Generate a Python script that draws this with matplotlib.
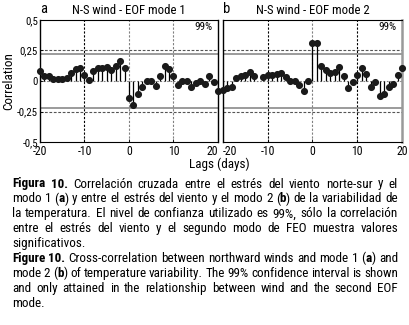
import numpy as np
import matplotlib
matplotlib.use("Agg")
import matplotlib.pyplot as plt
from matplotlib import font_manager

lags = np.arange(-20, 21)

# N-S wind vs EOF mode 1 (panel a)
corr_mode1 = [0.082, 0.044, 0.042, 0.02, 0.017, 0.017, 0.024, 0.068, 0.1, 0.106,
              0.05, 0.012, 0.08, 0.11, 0.11, 0.116, 0.09, 0.127, 0.16, 0.107,
              -0.14, -0.194, -0.105, -0.048, 0.0, 0.0, -0.04, 0.044, 0.124, 0.095,
              0.041, -0.034, -0.004, -0.004, -0.05, -0.019, -0.003, -0.023, 0.038, -0.012,
              -0.081]

# N-S wind vs EOF mode 2 (panel b), lag -12 is missing in the figure
corr_mode2 = [-0.07, -0.06, -0.046, 0.028, 0.041, 0.05, 0.075, 0.037, np.nan, 0.035,
              0.05, 0.052, 0.055, 0.062, 0.034, -0.004, 0.0, -0.033, -0.085, -0.004,
              0.315, 0.31, 0.126, 0.09, 0.063, 0.07, 0.118, 0.037, -0.06, -0.011,
              0.048, 0.104, 0.055, -0.047, -0.005, -0.12, -0.11, -0.047, -0.023, 0.052,
              0.104]

conf99 = 0.225
yticks = [0.5, 0.25, 0, -0.25, -0.5]
ytick_labels = ["0,5", "0,25", "0", "-0,25", "-0,5"]
xticks = [-20, -10, 0, 10, 20]
titles = ["N-S wind - EOF mode 1", "N-S wind - EOF mode 2"]
letters = ["a", "b"]

caption = [
    ("**Figura 10.** Correlación cruzada entre el estrés del viento norte-sur y el", True),
    ("modo 1 (**a**) y entre el estrés del viento y el modo 2 (**b**) de la variabilidad de", True),
    ("la temperatura. El nivel de confianza utilizado es 99%, sólo la correlación", True),
    ("entre el estrés del viento y el segundo modo de FEO muestra valores", True),
    ("significativos.", False),
    ("**Figure 10.** Cross-correlation between northward winds and mode 1 (**a**) and", True),
    ("mode 2 (**b**) of temperature variability. The 99% confidence interval is shown", True),
    ("and only attained in the relationship between wind and the second EOF", True),
    ("mode.", False),
]

# look for a narrow face like the one in the scan, else plain Liberation Sans
fam, stretch, k = "Liberation Sans", "normal", 0.85
for f in font_manager.fontManager.ttflist:
    nm = f.name.lower()
    narrow = ("narrow" in nm or "condensed" in nm or
              f.stretch in ("condensed", "semi-condensed", 550, 600, 625, 500, 400)) \
        and "extra" not in nm and "ultra" not in nm
    if narrow and any(b in nm for b in ["liberation", "arial", "roboto", "noto sans", "dejavu sans", "open sans"]) \
            and "mono" not in nm and "cjk" not in nm:
        fam, stretch, k = f.name, f.stretch, 1.0
        if "liberation" in nm:
            break
plt.rcParams["font.family"] = [fam, "DejaVu Sans"]
plt.rcParams["font.stretch"] = stretch

W, H = 410, 325
fig = plt.figure(figsize=(W / 100, H / 100), dpi=100)

boxes = [(40, 20, 218, 142), (223, 20, 402, 142)]
vcolors = [["black", "gray", "gray"], ["black", "gray", "black"]]

for i, data in enumerate([corr_mode1, corr_mode2]):
    x0, y0, x1, y1 = boxes[i]
    ax = fig.add_axes([x0 / W, 1 - y1 / H, (x1 - x0) / W, (y1 - y0) / H])
    ax.set_xlim(-20, 20)
    ax.set_ylim(-0.5, 0.5)

    for xv, c in zip([-10, 0, 10], vcolors[i]):
        ax.axvline(xv, color=c, lw=0.8, ls=(0, (2, 1.5)), zorder=1)
    ax.axhline(0, color="gray", lw=0.8, ls=(0, (1.5, 1.5)), zorder=1)
    for yv in [0.25, -0.25]:
        ax.axhline(yv, color="#555555", lw=0.8, ls=(0, (2.5, 1.5)), zorder=1)
    ax.axhline(conf99, color="gray", lw=1.1, zorder=1)
    ax.axhline(-conf99, color="gray", lw=1.1, zorder=1)

    vals = np.array(data)
    ax.vlines(lags, 0, vals, color="black", lw=0.9, zorder=2)
    ax.plot(lags, vals, "o", color="#1a1a1a", ms=4.1, zorder=3, clip_on=False)

    ax.set_xticks(xticks)
    ax.set_xticklabels([str(v) for v in xticks], fontsize=8.5 * k)
    ax.set_yticks(yticks)
    if i == 0:
        ax.set_yticklabels(ytick_labels, fontsize=7.8 * k)
        ax.set_ylabel("Correlation", fontsize=9.5 * k, labelpad=1)
        ax.get_xticklabels()[-1].set_horizontalalignment("right")
    else:
        ax.set_yticklabels([])
        ax.get_xticklabels()[0].set_horizontalalignment("left")
    ax.tick_params(direction="in", length=2, width=0.6, pad=1.5)
    ax.tick_params(axis="x", pad=2.5)
    ax.tick_params(axis="y", left=(i == 0))

    for s in ["top", "bottom"]:
        ax.spines[s].set_linestyle((0, (1.5, 1)))
        ax.spines[s].set_linewidth(0.8)
    ax.spines["left"].set_linewidth(1.0)
    if i == 1:
        ax.spines["right"].set_color("#999999")
        ax.spines["right"].set_linewidth(1.8)
    else:
        ax.spines["right"].set_linewidth(1.0)

    ax.set_title(titles[i], fontsize=9.2 * k, pad=4)
    ax.text(0.0, 1.035, letters[i], transform=ax.transAxes, fontsize=10.5 * k,
            ha="left", va="bottom")
    ax.text(0.97, 0.94, "99%", transform=ax.transAxes, fontsize=8 * k,
            ha="right", va="center")

fig.text(219 / W, 1 - 164 / H, "Lags (days)", fontsize=9.5 * k, ha="center", va="center")

# caption, justified between left and right margins
left, right = 12, 398
min_gap = 2.8
renderer = fig.canvas.get_renderer()


def split_words(line, bold):
    words = []
    for w in line.split(" "):
        parts = w.split("**")
        segs = []
        for j, p in enumerate(parts):
            if j > 0:
                bold = not bold
            if p:
                segs.append((p, bold))
        words.append(segs)
    return words, bold


def measure(s, b, size):
    t = fig.text(0, 0, s, fontsize=size, fontweight="bold" if b else "normal")
    wpx = t.get_window_extent(renderer).width
    t.remove()
    return wpx


# pick the size so that no justified line gets squeezed
fs = 10.2 * k
scale = 1.0
bold = False
for line, justify in caption:
    words, bold = split_words(line, bold)
    if not justify:
        continue
    tot = sum(measure(s, b, fs) for segs in words for s, b in segs)
    room = right - left - min_gap * (len(words) - 1)
    scale = min(scale, room / tot)
fs = fs * scale

bold = False
y = 184
for line, justify in caption:
    words, bold = split_words(line, bold)
    arts = []
    widths = []
    for segs in words:
        ts = []
        tot = 0
        for s, b in segs:
            t = fig.text(0, 1 - y / H, s, fontsize=fs, fontweight="bold" if b else "normal",
                         ha="left", va="center")
            wpx = t.get_window_extent(renderer).width
            ts.append((t, wpx))
            tot += wpx
        arts.append(ts)
        widths.append(tot)
    if justify and len(words) > 1:
        gap = (right - left - sum(widths)) / (len(words) - 1)
    else:
        gap = min_gap
    x = left
    for ts, wt in zip(arts, widths):
        xx = x
        for t, wpx in ts:
            t.set_x(xx / W)
            xx += wpx
        x += wt + gap
    y += 14.9

fig.savefig("out.png", dpi=100)
